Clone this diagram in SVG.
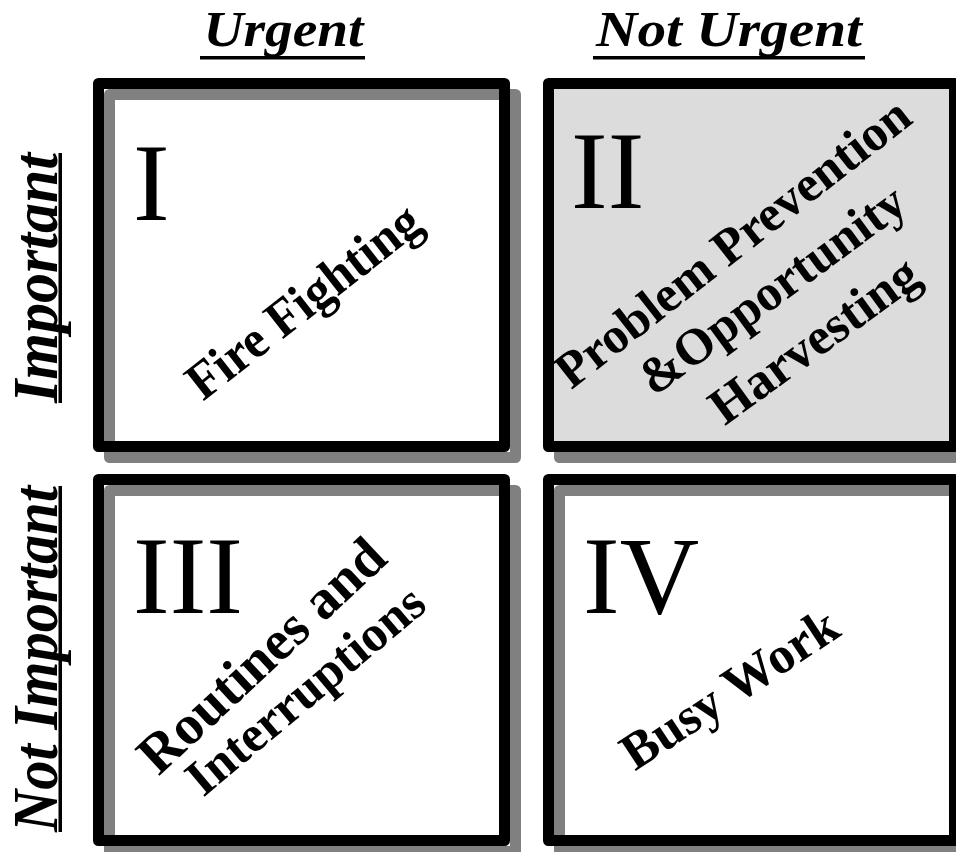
<svg xmlns="http://www.w3.org/2000/svg" width="956" height="852" viewBox="0 0 956 852">
<style>
.sh{fill:none;stroke:#808080;stroke-width:11;stroke-linejoin:round}
.bx{fill:none;stroke:#000;stroke-width:11;stroke-linejoin:round}
.hd{font-family:"Liberation Serif","Times New Roman",serif;font-weight:bold;font-style:italic;fill:#000}
.num{font-family:"Liberation Serif","Times New Roman",serif;font-size:110px;fill:#000}
.dg{font-family:"Liberation Serif","Times New Roman",serif;font-weight:bold;fill:#000;text-anchor:middle}
.ul{fill:#000}
</style>
<rect width="956" height="852" fill="#fff"/>
<g id="header-urgent">
<text class="hd" x="283.5" y="46" font-size="51" text-anchor="middle" textLength="160" lengthAdjust="spacingAndGlyphs">Urgent</text>
<rect class="ul" x="200" y="56" width="165" height="3.5"/>
</g>
<g id="header-not-urgent">
<text class="hd" x="729" y="46" font-size="51" text-anchor="middle" textLength="266" lengthAdjust="spacingAndGlyphs">Not Urgent</text>
<rect class="ul" x="593" y="56" width="272" height="3.5"/>
</g>
<g id="header-important">
<text class="hd" transform="translate(57,278) rotate(-90)" font-size="64" text-anchor="middle" textLength="250" lengthAdjust="spacingAndGlyphs">Important</text>
<rect class="ul" x="58.5" y="153" width="3.5" height="250"/>
</g>
<g id="header-not-important">
<text class="hd" transform="translate(57,659) rotate(-90)" font-size="64" text-anchor="middle" textLength="346" lengthAdjust="spacingAndGlyphs">Not Important</text>
<rect class="ul" x="58.5" y="486" width="3.5" height="346"/>
</g>
<g id="q1">
<rect class="sh" x="109.5" y="94.5" width="406" height="363"/>
<rect class="bx" x="98.5" y="83.5" width="406" height="363"/>
<text class="num" x="133" y="220">I</text>
<text class="dg" transform="translate(314,315) rotate(-38)" font-size="53" textLength="282" lengthAdjust="spacingAndGlyphs">Fire Fighting</text>
</g>
<g id="q2">
<rect class="sh" x="559.5" y="94.5" width="406" height="363"/>
<rect class="bx" x="548.5" y="83.5" width="406" height="363" style="fill:#dcdcdc"/>
<text class="num" x="571" y="208">II</text>
<text class="dg" transform="translate(743,256) rotate(-38)" font-size="51">Problem Prevention</text>
<text class="dg" transform="translate(782,303) rotate(-36.3)" font-size="51">&amp;Opportunity</text>
<text class="dg" transform="translate(824,354) rotate(-36.1)" font-size="52">Harvesting</text>
</g>
<g id="q3">
<rect class="sh" x="109.5" y="490.5" width="406" height="361"/>
<rect class="bx" x="98.5" y="479.5" width="406" height="361"/>
<text class="num" x="133" y="613">III</text>
<text class="dg" transform="translate(274,669) rotate(-43)" font-size="56">Routines and</text>
<text class="dg" transform="translate(316,703) rotate(-40)" font-size="51">Interruptions</text>
</g>
<g id="q4">
<rect class="sh" x="559.5" y="490.5" width="406" height="361"/>
<rect class="bx" x="548.5" y="479.5" width="406" height="361"/>
<text class="num" x="583" y="613">IV</text>
<text class="dg" transform="translate(739,703) rotate(-33.4)" font-size="52">Busy Work</text>
</g>
</svg>
